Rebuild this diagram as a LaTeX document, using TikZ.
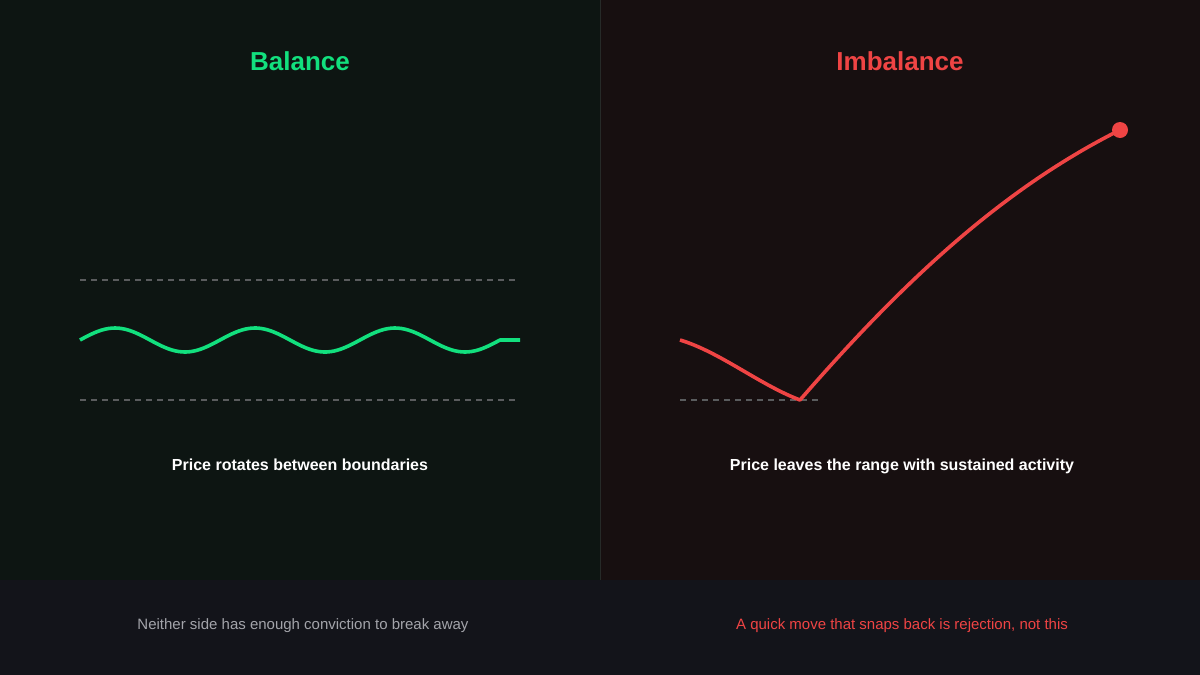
\documentclass[tikz,border=0pt]{standalone}
\usepackage{fontspec}
\setmainfont{Liberation Sans}
\usetikzlibrary{positioning}
\definecolor{bgleft}{HTML}{0D1512}
\definecolor{bgright}{HTML}{170F10}
\definecolor{bgfoot}{HTML}{13141A}
\definecolor{sepline}{HTML}{262A28}
\definecolor{balgreen}{HTML}{12E07E}
\definecolor{imbred}{HTML}{EF4444}
\definecolor{rangegray}{HTML}{5A5C5E}
\definecolor{footgray}{HTML}{A3A4AA}
\tikzset{paneltitle/.style = {font=\fontsize{26}{30}\selectfont\bfseries, anchor=base}}
\tikzset{panelcap/.style = {font=\fontsize{16}{19}\selectfont\bfseries, text=white, anchor=base}}
\tikzset{footnote/.style = {font=\fontsize{15}{18}\selectfont, anchor=base}}
\tikzset{rangeline/.style = {rangegray, line width=2, dash pattern=on 6 off 5}}
\tikzset{price/.style = {line width=3.6, line join=round}}
\tikzset{dot/.style = {fill, circle, inner sep = 0, minimum size = 16}}

\begin{document}
\begin{tikzpicture}[x=1pt, y=-1pt]
    \useasboundingbox (0, 0) rectangle (1200, 675);
    \fill [bgleft] (0, 0) rectangle (600, 580);
    \fill [bgright] (600, 0) rectangle (1200, 580);
    \fill [bgfoot] (0, 580) rectangle (1200, 675);
    \draw [sepline, line width=1] (600.5, 0) -- (600.5, 580);

    % balance side
    \node [paneltitle, text=balgreen] (baltitle) at (300, 70.3) {Balance};
    \draw [rangeline] (80, 280) -- (516, 280);
    \draw [rangeline] (80, 400) -- (516, 400);
    \coordinate (waveend) at (520, 340);
    \draw [price, balgreen] plot [domain=80:500, samples=120, smooth]
        (\x, {340 - 12*sin((\x - 80)*2.5714)}) -- (waveend);
    \node [panelcap] (balcap) at (300, 470) {Price rotates between boundaries};

    % imbalance side
    \node [paneltitle, text=imbred] (imbtitle) at (900, 70.3) {Imbalance};
    \draw [rangeline] (680, 400) -- (820, 400);
    \coordinate (breakstart) at (680, 340);
    \coordinate (low) at (800, 400);
    \node [dot, imbred] (high) at (1120, 130) {};
    \draw [price, imbred] (breakstart) .. controls (720, 352) and (760, 385) .. (low)
        .. controls (900, 285) and (1000, 190) .. (high.center);
    \node [panelcap] (imbcap) at (902, 470) {Price leaves the range with sustained activity};

    % footer
    \node [footnote, text=footgray] (balnote) at (303, 629.5) {Neither side has enough conviction to break away};
    \node [footnote, text=imbred] (imbnote) at (902, 629.5) {A quick move that snaps back is rejection, not this};
\end{tikzpicture}
\end{document}
